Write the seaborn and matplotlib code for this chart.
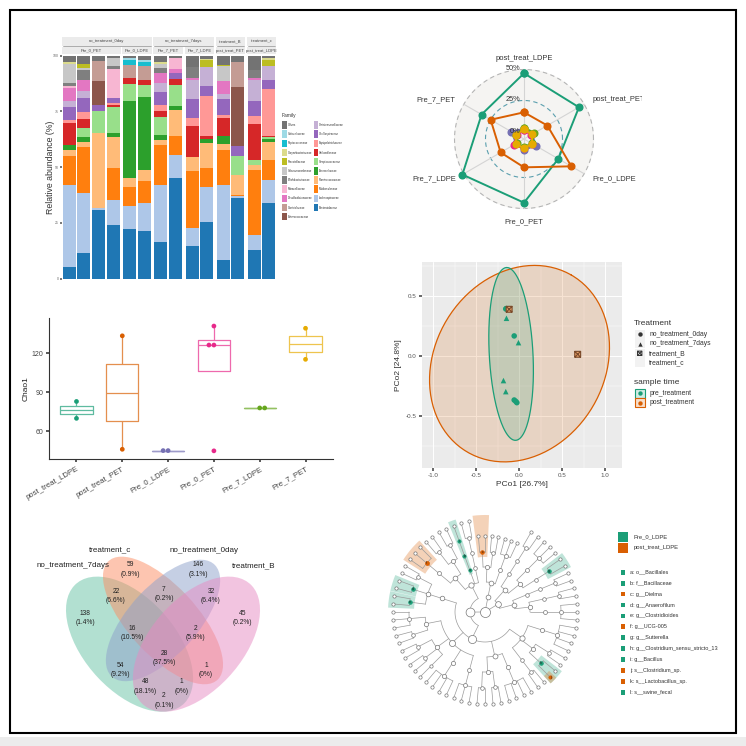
import numpy as np
import pandas as pd
import matplotlib
matplotlib.use("Agg")
import matplotlib.pyplot as plt
import matplotlib.colors as mcolors
from matplotlib.patches import Rectangle, Ellipse, Wedge
from matplotlib.path import Path
from matplotlib.transforms import Bbox, TransformedBbox
import seaborn as sns

sns.set_theme(style="white")
plt.rcParams["font.family"] = ["Liberation Sans", "DejaVu Sans"]
NARROW = ["Liberation Sans Narrow", "Liberation Sans", "DejaVu Sans"]
SIZE = 746.0

# ---------------- panel 1: family composition (bottom -> top) ----------------
FAMILIES = ["Bacteroidaceae", "Lachnospiraceae", "Muribaculaceae", "Ruminococcaceae",
            "Tannerellaceae", "Streptococcaceae", "Veillonellaceae", "Erysipelotrichaceae",
            "Oscillospiraceae", "Christensenellaceae", "Enterococcaceae", "Clostridiaceae",
            "Desulfovibrionaceae", "Moraxellaceae", "Bifidobacteriaceae", "Selenomonadaceae",
            "Prevotellaceae", "Corynebacteriaceae", "Peptococcaceae", "Sutterellaceae",
            "Others"]
FAM_COLORS = ["#1f77b4", "#aec7e8", "#ff7f0e", "#ffbb78", "#2ca02c", "#98df8a", "#d62728",
              "#ff9896", "#9467bd", "#c5b0d5", "#8c564b", "#c49c94", "#e377c2", "#f7b6d2",
              "#7f7f7f", "#c7c7c7", "#bcbd22", "#dbdb8d", "#17becf", "#9edae5", "#737373"]

pre0_pet_1 = [5, 37, 13, 2.4, 2.5, 0, 10, 1.2, 5.7, 2.8, 0, 0, 5.7, 1, 1.5, 8.2, 0, 1, 0, 0, 3]
pre0_pet_2 = [11.5, 27, 20.5, 2, 2.5, 4, 4.2, 3, 6.3, 3, 0, 0, 5, 0, 4.5, 0.7, 2.2, 0, 0, 0, 3.6]
pre0_pet_3 = [30.7, 0.8, 0, 33.7, 0, 9.7, 0, 0, 3, 0, 10.8, 8.7, 0, 0, 0, 0, 0, 0, 0, 0, 2.6]
pre0_pet_4 = [24, 11, 14.5, 14, 1.8, 11.7, 0.6, 1.2, 2.2, 0, 0, 0, 0, 13, 1.2, 3.7, 0, 0, 0, 0, 1.1]
pre0_ldpe_1 = [22, 10.5, 8.4, 4, 34.8, 7.6, 2.5, 0, 0, 0, 0, 6, 0, 0, 0, 0, 0, 0, 2, 1, 1.2]
pre0_ldpe_2 = [21.4, 12.3, 10.2, 4.8, 32.7, 5.2, 2.5, 0, 0, 0, 0, 6, 0, 0, 0, 0, 0, 0, 2.1, 0.8, 2]
pre7_pet_1 = [16.5, 25.5, 18, 2, 2.2, 8.2, 2.5, 2.7, 6, 4.2, 0, 0, 4.5, 0, 2.2, 1.5, 0, 1, 0, 0, 3]
pre7_pet_2 = [45, 10.5, 8.5, 11.7, 1.5, 9.7, 2.5, 0, 2.7, 0, 0, 0, 1.8, 5, 0, 0, 0, 0, 0, 0, 1.1]
pre7_ldpe_1 = [14.5, 8, 25.5, 6.3, 0.4, 0, 13.5, 3.7, 8.5, 8.7, 0, 0, 0.7, 0, 5, 0, 0, 0, 0, 0, 5.2]
pre7_ldpe_2 = [25.5, 15.5, 8.5, 11.2, 1.8, 0, 1.5, 18, 4.5, 8.4, 0, 0, 0, 0, 0, 0, 3, 0.6, 0, 0, 1.5]
post_pet_1 = [8.2, 33.7, 15.5, 3, 3.6, 0, 8, 1.5, 7, 2.2, 0, 0, 5.7, 0, 0, 6.7, 0.8, 0, 0, 0, 4.1]
post_pet_2 = [36.3, 0.9, 0.4, 8.7, 0, 8.8, 0, 0, 4.2, 0, 26.7, 11.2, 0, 0, 0, 0, 0, 0, 0, 0, 2.8]
post_ldpe_1 = [13, 6.5, 29, 2.5, 0, 2.2, 16, 3.7, 6.7, 9.5, 0, 0, 0.7, 0, 3.7, 0, 0, 0, 0, 0, 6.5]
post_ldpe_2 = [34, 10.2, 9, 8.2, 1, 1.2, 0.3, 21, 3.9, 6.6, 0, 0, 0, 0, 0, 0, 2.7, 0.8, 0, 0, 1.1]

BAR_PANELS = [
    ("no_treatment_0day", "Pre_0_PET", [pre0_pet_1, pre0_pet_2, pre0_pet_3, pre0_pet_4]),
    ("no_treatment_0day", "Pre_0_LDPE", [pre0_ldpe_1, pre0_ldpe_2]),
    ("no_treatment_7days", "Pre_7_PET", [pre7_pet_1, pre7_pet_2]),
    ("no_treatment_7days", "Pre_7_LDPE", [pre7_ldpe_1, pre7_ldpe_2]),
    ("treatment_B", "post_treat_PET", [post_pet_1, post_pet_2]),
    ("treatment_c", "post_treat_LDPE", [post_ldpe_1, post_ldpe_2]),
]

# ---------------- panel 2: radar ----------------
RADAR_AXES = ["post_treat_LDPE", "post_treat_PET", "Pre_0_LDPE", "Pre_0_PET", "Pre_7_LDPE", "Pre_7_PET"]
radar_green = [46.6, 44.8, 25.9, 45.0, 50.9, 33.3]
radar_orange = [15.6, 15.8, 37.8, 16.9, 15.8, 25.0]
radar_purple = [2.5, 2.0, 5.0, 3.0, 1.5, 6.0]
radar_pink = [1.5, 1.0, 2.0, 1.8, 3.8, 1.0]
radar_lime = [3.5, 4.0, 1.5, 1.0, 1.0, 1.5]
radar_yellow = [2.0, 1.6, 1.9, 1.7, 2.1, 1.5]
RADAR_SERIES = [radar_green, radar_orange, radar_purple, radar_pink, radar_lime, radar_yellow]
RADAR_COLORS = ["#1b9e77", "#d95f02", "#7570b3", "#e7298a", "#66a61e", "#e6ab02"]

# ---------------- panel 3: Chao1 ----------------
BOX_GROUPS = ["post_treat_LDPE", "post_treat_PET", "Pre_0_LDPE", "Pre_0_PET", "Pre_7_LDPE", "Pre_7_PET"]
chao_post_ldpe = [83, 70]
chao_post_pet = [133.5, 46.2]
chao_pre0_ldpe = [45.2, 45.2]
chao_pre0_pet = [141, 126.4, 126.4, 45]
chao_pre7_ldpe = [78, 78]
chao_pre7_pet = [139.3, 115.4]
BOX_COLORS = ["#1b9e77", "#d95f02", "#7570b3", "#e7298a", "#66a61e", "#e6ab02"]

# ---------------- panel 4: PCoA ----------------
pcoa_x = [-0.156, -0.150, -0.058, -0.058, -0.027, -0.040, -0.148, -0.008, -0.183, -0.156,
          -0.117, 0.682, -0.175, -0.130]
pcoa_y = [0.392, 0.395, 0.167, -0.367, -0.389, -0.378, 0.314, 0.111, -0.205, -0.297,
          0.389, 0.014, -0.195, -0.266]
pcoa_treat = ["no_treatment_0day", "no_treatment_0day", "no_treatment_0day", "no_treatment_0day",
              "no_treatment_0day", "no_treatment_0day", "no_treatment_7days", "no_treatment_7days",
              "no_treatment_7days", "no_treatment_7days", "treatment_B", "treatment_B",
              "treatment_c", "treatment_c"]
pcoa_time = ["pre_treatment"] * 10 + ["post_treatment"] * 4
TIME_COLORS = {"pre_treatment": "#1b9e77", "post_treatment": "#d95f02"}
ell_pre = {"c": (-0.094, 0.017), "u": (-0.05, 0.72), "v": (0.255, 0.0)}
ell_post = {"c": (0.004, -0.064), "u": (0.60, 0.74), "v": (-0.86, 0.35)}

# ---------------- panel 5: Venn ----------------
VENN_SETS = ["no_treatment_7days", "treatment_c", "no_treatment_0day", "treatment_B"]
VENN_COLORS = ["#66c2a5", "#fc8d62", "#8da0cb", "#e78ac3"]
venn_counts = [138, 59, 22, 7, 146, 32, 45, 16, 2, 28, 54, 1, 48, 1, 2]
venn_pcts = ["1.4%", "0.9%", "6.6%", "0.2%", "3.1%", "6.4%", "0.2%", "10.5%", "5.9%",
             "37.5%", "9.2%", "0%", "18.1%", "0%", "0.1%"]

# ---------------- panel 6: LEfSe cladogram ----------------
class1 = "((((,,)),((,))),(((,))))"
class2 = "((((,)g),((,,))),(((,))))"
bacteroid = "((((,,)),((,),(,)c)))"
bacilli = "((((,))),((()i)b)a,(((,),(,)),((,,)f)))"
ord1 = "(((,),(,)d,(,)e))"
ord2 = "(((,,),(,)),((,),(,),()),((,,,)),((,,)))"
ord3 = "(((,),(,)),((,,,)))"
ord4 = "(((,)),((j,)h,(,)),((,,,)))"
TREE = "((" + class1 + "," + class2 + ")," + bacteroid + ",(" + bacilli + ",(" + \
       ord1 + "," + ord2 + "," + ord3 + "," + ord4 + ")))"
CLADO_GROUPS = ["Pre_0_LDPE", "post_treat_LDPE"]
CLADO_COLORS = ["#1b9e77", "#d95f02"]
clado_labels = ["a: o__Bacillales", "b: f__Bacillaceae", "c: g__Dielma", "d: g__Anaerofilum",
                "e: g__Clostridioides", "f: g__UCG-005", "g: g__Sutterella",
                "h: g__Clostridium_sensu_stricto_13", "i: g__Bacillus", "j: s__Clostridium_sp.",
                "k: s__Lactobacillus_sp.", "l: s__swine_fecal"]
clado_enriched = [0, 0, 1, 0, 0, 1, 0, 0, 0, 1, 1, 0]


def rect(x0, y0, x1, y1):
    return [x0 / SIZE, 1 - y1 / SIZE, (x1 - x0) / SIZE, (y1 - y0) / SIZE]


def lighten(c, f):
    r, g, b = mcolors.to_rgb(c)
    return (r + (1 - r) * f, g + (1 - g) * f, b + (1 - b) * f)


fig = plt.figure(figsize=(7.46, 7.46), dpi=100)
fig.patch.set_facecolor("white")

ov = fig.add_axes([0, 0, 1, 1])
ov.set_xlim(0, SIZE)
ov.set_ylim(SIZE, 0)
ov.axis("off")
ov.set_zorder(10)
ov.add_patch(Rectangle((0, 737), SIZE, 9, color="#ececec", lw=0))
ov.add_patch(Rectangle((10, 10), 725.5, 723, fill=False, ec="black", lw=1.5))

# ---- stacked bars ----
x0 = 61.7
spans = {}
for i, (grp, sub, members) in enumerate(BAR_PANELS):
    n = len(members)
    w = 14.75 * n
    ax = fig.add_axes(rect(x0, 55.5, x0 + w, 278.5))
    comp = pd.DataFrame(members, columns=FAMILIES)
    bottom = np.zeros(n)
    for fam, col in zip(FAMILIES, FAM_COLORS):
        ax.bar(np.arange(n), comp[fam], bottom=bottom, width=0.9, color=col, linewidth=0)
        bottom += comp[fam].to_numpy()
    ax.set_xlim(-0.52, n - 0.48)
    ax.set_ylim(0, 100)
    ax.set_xticks([])
    for s in ax.spines.values():
        s.set_visible(False)
    if i == 0:
        ax.set_yticks([0, 25, 50, 75, 100])
        ax.tick_params(axis="y", labelsize=2.5, length=1.5, pad=0.8, colors="#666666", left=True)
    else:
        ax.set_yticks([])
    ov.add_patch(Rectangle((x0, 46.8), w, 7.6, color="#ebebeb", lw=0))
    ov.text(x0 + w / 2, 50.6, sub, fontsize=3, ha="center", va="center", color="#444444")
    lo, hi = spans.get(grp, (x0, x0 + w))
    spans[grp] = (min(lo, x0), max(hi, x0 + w))
    x0 += w + 1.6
for grp, (lo, hi) in spans.items():
    ov.add_patch(Rectangle((lo, 36.5), hi - lo, 9, color="#ebebeb", lw=0))
    ov.plot([lo + 1, hi - 1], [46.0, 46.0], color="#8a8a8a", lw=0.5)
    ov.text((lo + hi) / 2, 41, grp, fontsize=3, ha="center", va="center", color="#444444")
ov.text(50.5, 167, "Relative abundance (%)", rotation=90, fontsize=6.3, ha="center",
        va="center", color="#333333")

leg_names = [FAMILIES[-1]] + FAMILIES[-2::-1]
leg_cols = [FAM_COLORS[-1]] + FAM_COLORS[-2::-1]
ov.text(282, 115, "Family", fontsize=3.5, ha="left", va="center", color="#333333")
for k, (nm, col) in enumerate(zip(leg_names, leg_cols)):
    cx = 282.3 + (k // 11) * 31.5
    cy = 125 + (k % 11) * 9.17
    ov.add_patch(Rectangle((cx, cy - 3.7), 4.2, 7.4, color=col, lw=0))
    ov.text(cx + 5.4, cy, nm, fontsize=1.95, ha="left", va="center", color="#333333")

# ---- radar ----
rad = fig.add_axes(rect(454, 69, 594, 209), projection="polar")
th = np.deg2rad([90, 30, -30, -90, -150, 150])
rad.set_ylim(-5.6, 50)
rad.set_facecolor("#f5f4f2")
rad.grid(False)
rad.set_xticks([])
rad.set_yticks([])
rad.spines["polar"].set_visible(False)
ring = np.linspace(0, 2 * np.pi, 241)
rad.plot(ring, np.full_like(ring, 49.6), color="#b5b5b5", lw=0.8, ls=(0, (4, 3)), clip_on=False)
rad.plot(ring, np.full_like(ring, 25), color="#5b9fae", lw=0.8, ls=(0, (4, 3)))
rad.plot(ring, np.full_like(ring, 0), color="#b5b5b5", lw=0.6, ls=(0, (4, 3)))
for t in th:
    rad.plot([t, t], [-5.6, 50], color="#d4d4d4", lw=0.8)
for vals, col in zip(RADAR_SERIES, RADAR_COLORS):
    rad.plot(np.append(th, th[0]), np.append(vals, vals[0]), color=col, lw=1.4,
             marker="o", ms=4.8, clip_on=False)
for lab, rr in zip(["50%", "25%", "0%"], [50, 25, 0]):
    rad.annotate(lab, (np.pi / 2, rr), xytext=(-2.5, 0.5), textcoords="offset points",
                 ha="right", va="center", fontsize=5.3, color="#333333")
label_r = [58.5, 57, 57, 60, 57, 57]
label_ha = ["center", "left", "left", "center", "right", "right"]
for t, nm, rr, ha in zip(th, RADAR_AXES, label_r, label_ha):
    txt = rad.text(t, rr, nm, ha=ha, va="center", fontsize=5.4, color="#333333")
    txt.set_clip_path(None)
    txt.set_clip_on(True)
    txt.set_clip_box(TransformedBbox(Bbox([[0, 0], [641.7 / SIZE, 1]]), fig.transFigure))

# ---- Chao1 box plot ----
box_df = pd.DataFrame({
    "group": ["post_treat_LDPE"] * 2 + ["post_treat_PET"] * 2 + ["Pre_0_LDPE"] * 2
             + ["Pre_0_PET"] * 4 + ["Pre_7_LDPE"] * 2 + ["Pre_7_PET"] * 2,
    "chao1": chao_post_ldpe + chao_post_pet + chao_pre0_ldpe + chao_pre0_pet
             + chao_pre7_ldpe + chao_pre7_pet,
})
bx = fig.add_axes(rect(49, 318, 333, 459.3))
sns.boxplot(data=box_df, x="group", y="chao1", hue="group", order=BOX_GROUPS,
            hue_order=BOX_GROUPS, palette=[lighten(c, 0.3) for c in BOX_COLORS],
            fill=False, width=0.7, linewidth=0.9, showfliers=False, showcaps=False,
            legend=False, ax=bx)
sns.swarmplot(data=box_df, x="group", y="chao1", hue="group", order=BOX_GROUPS,
              hue_order=BOX_GROUPS, palette=BOX_COLORS, size=3.4, legend=False, ax=bx)
bx.set_xlim(-0.6, 5.6)
bx.set_ylim(38.5, 147.2)
bx.set_yticks([60, 90, 120])
bx.set_xlabel("")
bx.set_ylabel("Chao1", fontsize=6, color="#222222", labelpad=1.5)
bx.set_xticks(range(len(BOX_GROUPS)))
bx.set_xticklabels(BOX_GROUPS, rotation=30, ha="right", rotation_mode="anchor")
bx.tick_params(axis="x", labelsize=5.6, length=2.5, colors="#444444", bottom=True, pad=2)
bx.tick_params(axis="y", labelsize=5, length=2.5, colors="#444444", left=True, pad=1.5)
for side in ["top", "right"]:
    bx.spines[side].set_visible(False)
for side in ["left", "bottom"]:
    bx.spines[side].set_color("#333333")
    bx.spines[side].set_linewidth(0.8)
bx.set_facecolor("none")

# ---- PCoA ----
pc = fig.add_axes(rect(421.7, 262, 621.7, 468.3))
pc.set_facecolor("#ebebeb")
pc.set_xlim(-1.136, 1.195)
pc.set_ylim(-0.936, 0.783)
pc.set_xticks([-1.0, -0.5, 0.0, 0.5, 1.0])
pc.set_xticks([-0.75, -0.25, 0.25, 0.75], minor=True)
pc.set_yticks([-0.5, 0.0, 0.5])
pc.set_yticks([-0.75, -0.25, 0.25, 0.75], minor=True)
pc.xaxis.set_major_formatter(matplotlib.ticker.FormatStrFormatter("%.1f"))
pc.yaxis.set_major_formatter(matplotlib.ticker.FormatStrFormatter("%.1f"))
pc.grid(which="major", color="white", lw=0.7)
pc.grid(which="minor", color="white", lw=0.35)
pc.set_axisbelow(True)
for s in pc.spines.values():
    s.set_visible(False)
pc.tick_params(which="major", labelsize=4.5, length=2, colors="#555555", bottom=True, left=True, pad=1.5)
pc.tick_params(which="minor", length=0)
tt = np.linspace(0, 2 * np.pi, 200)
for ell, key in [(ell_post, "post_treatment"), (ell_pre, "pre_treatment")]:
    ex = ell["c"][0] + ell["u"][0] * np.cos(tt) + ell["v"][0] * np.sin(tt)
    ey = ell["c"][1] + ell["u"][1] * np.cos(tt) + ell["v"][1] * np.sin(tt)
    pc.fill(ex, ey, color=TIME_COLORS[key], alpha=0.17, lw=0)
    pc.plot(ex, ey, color=TIME_COLORS[key], lw=0.9)
pc_df = pd.DataFrame({"PCo1": pcoa_x, "PCo2": pcoa_y, "Treatment": pcoa_treat, "time": pcoa_time})
SQX = Path([(-1, -1), (1, -1), (1, 1), (-1, 1), (-1, -1), (-1, -1), (1, 1), (-1, 1), (1, -1)],
           [Path.MOVETO, Path.LINETO, Path.LINETO, Path.LINETO, Path.CLOSEPOLY,
            Path.MOVETO, Path.LINETO, Path.MOVETO, Path.LINETO])
filled = {"no_treatment_0day": "o", "no_treatment_7days": "^"}
for tr, mk in filled.items():
    sub = pc_df[pc_df["Treatment"] == tr]
    sns.scatterplot(data=sub, x="PCo1", y="PCo2", hue="time", palette=TIME_COLORS, marker=mk,
                    s=16, linewidth=0, legend=False, ax=pc)
for tr, mk in [("treatment_B", SQX), ("treatment_c", (8, 2, 0))]:
    sub = pc_df[pc_df["Treatment"] == tr]
    pc.scatter(sub["PCo1"], sub["PCo2"], marker=mk, s=18,
               facecolors=[lighten(TIME_COLORS[t], 0.4) for t in sub["time"]] if tr == "treatment_B" else "none",
               edgecolors=["#7a4a2a" if tr == "treatment_B" else TIME_COLORS[t] for t in sub["time"]],
               linewidths=0.8)
pc.set_xlabel("PCo1 [26.7%]", fontsize=6, color="#333333", labelpad=2)
pc.set_ylabel("PCo2 [24.8%]", fontsize=6, color="#333333", labelpad=3)

ov.text(633.5, 323.3, "Treatment", fontsize=6, ha="left", va="center", color="#333333")
for k, (nm, mk) in enumerate([("no_treatment_0day", "o"), ("no_treatment_7days", "^"),
                              ("treatment_B", SQX), ("treatment_c", (8, 2, 0))]):
    yy = 334.3 + 9.5 * k
    ov.add_patch(Rectangle((635, yy - 4.5), 9.5, 9, color="#f2f2f2", lw=0))
    if k < 2:
        ov.scatter([639.7], [yy], marker=mk, s=10, color="#333333", lw=0)
    else:
        ov.scatter([639.7], [yy], marker=mk, s=10, facecolors="none", edgecolors="#333333", lw=0.7)
    ov.text(649.3, yy, nm, fontsize=4.9, ha="left", va="center", color="#333333")
ov.text(633.5, 382.7, "sample time", fontsize=6, ha="left", va="center", color="#333333")
for k, key in enumerate(["pre_treatment", "post_treatment"]):
    yy = 393.3 + 9.4 * k
    ov.add_patch(Rectangle((635, yy - 4.3), 9.5, 8.6, fc=lighten(TIME_COLORS[key], 0.8),
                           ec=TIME_COLORS[key], lw=0.8))
    ov.scatter([639.7], [yy], marker="o", s=10, color=TIME_COLORS[key], lw=0)
    ov.text(649.3, yy, key, fontsize=4.9, ha="left", va="center", color="#333333")

# ---- Venn ----
ve = fig.add_axes(rect(40, 540, 290, 720))
ve.set_xlim(-0.0516, 1.0695)
ve.set_ylim(0.150, 0.9095)
ve.axis("off")
venn_shapes = [(0.35, 0.47, 0.35, 0.20, 135), (0.50, 0.57, 0.35, 0.15, 135),
               (0.50, 0.57, 0.33, 0.15, 45), (0.65, 0.47, 0.35, 0.20, 45)]
for (cx, cy, a, b, rot), col in zip(venn_shapes, VENN_COLORS):
    ve.add_patch(Ellipse((cx, cy), 2 * a, 2 * b, angle=rot, fc=col, alpha=0.5, lw=0))
venn_label_xy = [(0.150, 0.580), (0.352, 0.785), (0.289, 0.674), (0.504, 0.682), (0.657, 0.785),
                 (0.715, 0.674), (0.857, 0.580), (0.360, 0.517), (0.647, 0.517), (0.504, 0.412),
                 (0.310, 0.361), (0.693, 0.361), (0.422, 0.292), (0.584, 0.292), (0.504, 0.232)]
for (lx, ly), cnt, pct in zip(venn_label_xy, venn_counts, venn_pcts):
    ve.text(lx, ly, f"{cnt}\n({pct})", ha="center", va="center", fontsize=4.8,
            family=NARROW, color="#222222", linespacing=1.5)
venn_set_xy = [(0.098, 0.801), (0.262, 0.867), (0.684, 0.867), (0.908, 0.801)]
for (lx, ly), nm in zip(venn_set_xy, VENN_SETS):
    ve.text(lx, ly, nm, ha="center", va="center", fontsize=5.8, family=NARROW, color="#222222")

# ---- cladogram ----
def parse_newick(s):
    pos = 0

    def node():
        nonlocal pos
        kids = []
        if s[pos] == "(":
            pos += 1
            kids.append(node())
            while s[pos] == ",":
                pos += 1
                kids.append(node())
            pos += 1
        lab = ""
        while pos < len(s) and s[pos] not in ",()":
            lab += s[pos]
            pos += 1
        return {"kids": kids, "label": lab}
    return node()


tree = parse_newick(TREE)
RADII = [0, 15, 30, 45, 60, 76, 92]
leaf_counter = [0]


def count_leaves(n):
    return 1 if not n["kids"] else sum(count_leaves(k) for k in n["kids"])


step = 360.0 / count_leaves(tree)


def place(n, depth):
    n["depth"] = depth
    if not n["kids"]:
        n["ang"] = -5 + step * leaf_counter[0]
        leaf_counter[0] += 1
        n["lo"] = n["hi"] = n["ang"]
        n["nl"] = 1
    else:
        for k in n["kids"]:
            place(k, depth + 1)
        n["lo"] = n["kids"][0]["lo"]
        n["hi"] = n["kids"][-1]["hi"]
        n["ang"] = (n["kids"][0]["ang"] + n["kids"][-1]["ang"]) / 2
        n["nl"] = sum(k["nl"] for k in n["kids"])


place(tree, 0)
letter_color = {lab.split(":")[0]: CLADO_COLORS[g] for lab, g in zip(clado_labels, clado_enriched)}

cl = fig.add_axes(rect(380, 510, 600, 720))
cl.set_xlim(-105, 115)
cl.set_ylim(-108, 102)
cl.axis("off")


def xy(ang, r):
    return r * np.cos(np.deg2rad(ang)), r * np.sin(np.deg2rad(ang))


def draw(n, parent_col):
    r = RADII[n["depth"]]
    col = letter_color.get(n["label"])
    if col is not None and col != parent_col:
        r_in = max(r - 5, 2)
        cl.add_patch(Wedge((0, 0), RADII[-1] + 5, n["lo"] - 2.4, n["hi"] + 2.4,
                           width=RADII[-1] + 5 - r_in, color=col, alpha=0.28, lw=0, zorder=1))
    if n["kids"]:
        if r > 0:
            aa = np.linspace(n["kids"][0]["ang"], n["kids"][-1]["ang"], 40)
            ax_, ay_ = xy(aa, r)
            cl.plot(ax_, ay_, color="#9a9a9a", lw=0.5, zorder=2)
        for k in n["kids"]:
            rk = RADII[k["depth"]]
            p0 = xy(k["ang"], r)
            p1 = xy(k["ang"], rk)
            cl.plot([p0[0], p1[0]], [p0[1], p1[1]], color="#9a9a9a", lw=0.5, zorder=2)
            draw(k, col if col is not None else parent_col)
    px, py = xy(n["ang"], r)
    d_pt = 2 * (1.2 + 0.45 * np.sqrt(n["nl"])) * 0.72
    cl.scatter([px], [py], s=d_pt ** 2, facecolor=col if col else "white",
               edgecolor="#777777" if col is None else col, linewidths=0.5, zorder=3)
    if col is not None:
        cl.text(px, py, n["label"], fontsize=2.6, ha="center", va="center", color="#222222", zorder=4)


draw(tree, None)

ov.add_patch(Rectangle((618.3, 531.7), 10, 10.5, color=CLADO_COLORS[0], lw=0))
ov.add_patch(Rectangle((618.3, 542.7), 10, 9.8, color=CLADO_COLORS[1], lw=0))
for k, nm in enumerate(CLADO_GROUPS):
    ov.text(633.3, 536.9 + 11 * k, nm, fontsize=4.2, ha="left", va="center", color="#333333")
for k, (nm, g) in enumerate(zip(clado_labels, clado_enriched)):
    yy = 572.3 + 10.9 * k
    ov.add_patch(Rectangle((620.6, yy - 2.4), 4.6, 4.8, color=CLADO_COLORS[g], lw=0))
    ov.text(630, yy, nm, fontsize=4.0, ha="left", va="center", color="#333333")

fig.savefig("out.png", dpi=100)
